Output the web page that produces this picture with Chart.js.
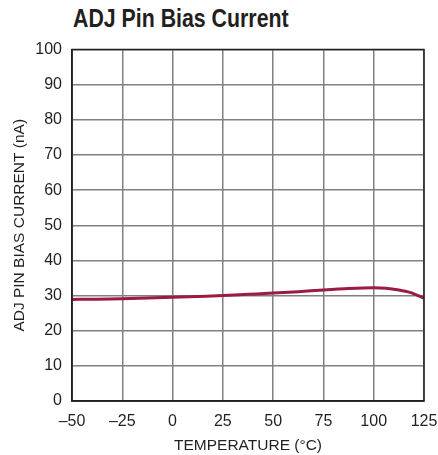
<!DOCTYPE html>
<html>
<head>
<meta charset="utf-8">
<script src="https://cdn.jsdelivr.net/npm/chart.js@4"></script>
<style>
    html, body { margin: 0; padding: 0; background: #fff; }
    #wrap { position: relative; width: 438px; height: 455px; }
    #title {
        position: absolute; left: 73px; top: 3px;
        font-family: 'Liberation Sans', Arial, sans-serif;
        font-weight: bold; font-size: 26px; color: #231f20; white-space: nowrap;
        transform: scaleX(0.82); transform-origin: left top;
    }
    canvas { position: absolute; left: 0; top: 0; }
</style>
</head>
<body>
<div id="wrap">
    <div id="title">ADJ Pin Bias Current</div>
    <canvas id="chart" width="438" height="455"></canvas>
</div>
<script>
// temperature (°C) and ADJ pin bias current (nA)
const temps = [-50, -37.5, -25, -12.5, 0, 12.5, 25, 37.5, 50, 62.5, 75, 87.5, 100, 106, 112.5, 118, 125];
const biasCurrent = [28.9, 28.95, 29.1, 29.3, 29.5, 29.75, 30.0, 30.35, 30.7, 31.1, 31.6, 32.0, 32.2, 32.1, 31.6, 30.9, 29.3];
const xTicks = [-50, -25, 0, 25, 50, 75, 100, 125];
const yTicks = [0, 10, 20, 30, 40, 50, 60, 70, 80, 90, 100];

const font = { family: "'Liberation Sans', Arial, sans-serif", size: 16 };
const titleFont = { family: "'Liberation Sans', Arial, sans-serif", size: 15.5 };

document.addEventListener('DOMContentLoaded', () => {
    const ctx = document.getElementById('chart').getContext('2d');

    new Chart(ctx, {
        type: 'line',
        data: {
            datasets: [{
                data: temps.map((t, i) => ({ x: t, y: biasCurrent[i] })),
                borderColor: '#9a1c41',
                borderWidth: 3,
                pointRadius: 0,
                cubicInterpolationMode: 'monotone',
                fill: false
            }]
        },
        options: {
            responsive: false,
            animation: false,
            layout: { padding: { left: 0, right: 14, top: 49.5, bottom: 0 } },
            plugins: { legend: { display: false }, tooltip: { enabled: false } },
            scales: {
                x: {
                    type: 'linear',
                    min: -50, max: 125,
                    afterBuildTicks: scale => { scale.ticks = xTicks.map(v => ({ value: v })); },
                    afterFit: scale => {
                        scale.height = 54;
                        scale.paddingLeft = 0;
                        scale.paddingRight = 0;
                    },
                    ticks: {
                        color: '#231f20', font: font, padding: 11, maxRotation: 0,
                        callback: v => (v < 0 ? '\u2013' + Math.abs(v) : String(v))
                    },
                    grid: { color: '#808080', lineWidth: 1.5, drawTicks: false },
                    border: { color: '#231f20', width: 1.5 },
                    title: {
                        display: true, text: 'TEMPERATURE (°C)', color: '#231f20',
                        font: titleFont, padding: { top: 0, bottom: 0 }
                    }
                },
                y: {
                    min: 0, max: 100,
                    afterBuildTicks: scale => { scale.ticks = yTicks.map(v => ({ value: v })); },
                    afterFit: scale => { scale.width = 72; },
                    ticks: { color: '#231f20', font: font, padding: 10 },
                    grid: { color: '#808080', lineWidth: 1.5, drawTicks: false },
                    border: { color: '#231f20', width: 1.5 },
                    title: {
                        display: true, text: 'ADJ PIN BIAS CURRENT (nA)', color: '#231f20',
                        font: titleFont, padding: { top: 10, bottom: 0 }
                    }
                }
            }
        },
        plugins: [{
            id: 'frame',
            afterDraw: chart => {
                const a = chart.chartArea;
                const c = chart.ctx;
                c.save();
                c.strokeStyle = '#231f20';
                c.lineWidth = 1.5;
                c.strokeRect(a.left, a.top, a.right - a.left, a.bottom - a.top);
                c.restore();
            }
        }]
    });
});
</script>
</body>
</html>
